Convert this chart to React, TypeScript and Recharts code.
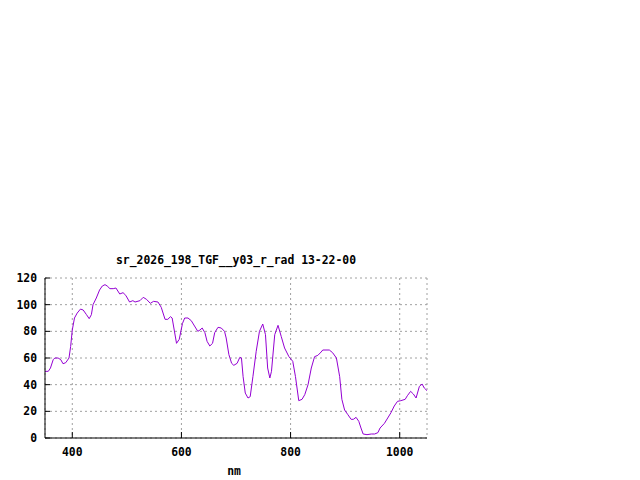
import {
  LineChart,
  Line,
  XAxis,
  YAxis,
  CartesianGrid,
} from "recharts";

const title = "sr_2026_198_TGF__y03_r_rad 13-22-00";
const xLabel = "nm";

const xTicks = [400, 600, 800, 1000];
const yTicks = [0, 20, 40, 60, 80, 100, 120];

const wavelengths = [
  350, 356, 360, 365, 368, 374, 379, 383, 388, 394, 397, 400, 404, 409, 415,
  420, 426, 431, 435, 438, 444, 450, 455, 460, 464, 469, 475, 480, 487, 493,
  498, 505, 511, 515, 524, 530, 536, 543, 549, 557, 563, 570, 575, 580, 583,
  591, 596, 602, 606, 612, 618, 624, 630, 634, 638, 643, 647, 652, 657, 661,
  667, 673, 679, 682, 687, 692, 696, 702, 707, 710, 713, 717, 722, 726, 731,
  737, 743, 749, 754, 758, 762, 765, 771, 777, 783, 789, 797, 804, 809, 815,
  821, 826, 832, 838, 844, 850, 856, 859, 871, 877, 884, 890, 894, 899, 905,
  911, 915, 920, 925, 929, 933, 940, 948, 954, 960, 964, 972, 978, 984, 990,
  996, 1002, 1010, 1014, 1020, 1025, 1030, 1036, 1041, 1045, 1050,
];

const radiance = [
  50, 50, 52.5, 58.7, 60, 60, 58.7, 55.7, 56.5, 60, 68.7, 81, 90, 93.7, 96.7,
  96, 92.5, 89.5, 92.5, 100, 105, 111, 114, 115, 114, 112, 112, 112.5, 108, 109,
  107, 102, 103, 102, 103, 105.5, 104, 101, 102.5, 102, 98, 89, 89, 91, 90,
  71, 74, 86, 90, 90, 88, 84, 80, 81, 82.5, 79, 72.5, 69, 71, 79,
  83, 82.5, 80, 75, 62.5, 56, 54.5, 56, 60.5, 60, 46, 33.7, 30, 31, 46,
  65, 80, 85.5, 77.5, 52.5, 45, 50, 77.5, 84.5, 76, 67.5, 61, 57.5, 46, 28,
  29, 32.5, 40, 52.5, 61, 62, 64.5, 66, 66, 64, 60, 46, 29, 21, 17.5,
  14, 14, 15.5, 12.5, 7.5, 3, 2.5, 3, 3, 4, 7.5, 11, 15, 19, 24,
  27.5, 28, 29, 31.7, 35, 33, 30, 38.7, 40.5, 37.5, 35.5,
];

const data = wavelengths.map((nm, i) => ({ nm, v: radiance[i] }));

const font = "'DejaVu Sans Mono', monospace";
const textStyle = { fontFamily: font, fontSize: 11.4, fontWeight: "bold" as const, fill: "#000" };

const BottomTick = (props: any) => {
  const { x, y, payload } = props;
  return (
    <g>
      <line x1={x} y1={y} x2={x} y2={y - 6} stroke="#000" />
      <text x={x} y={y + 14} dy="0.35em" textAnchor="middle" style={textStyle}>
        {payload.value}
      </text>
    </g>
  );
};

const TopTick = (props: any) => {
  const { x, y } = props;
  return <line x1={x} y1={y} x2={x} y2={y + 6} stroke="#000" />;
};

const LeftTick = (props: any) => {
  const { x, y, payload } = props;
  return (
    <g>
      <line x1={x} y1={y} x2={x + 5} y2={y} stroke="#000" />
      <text x={x - 8} y={y} dy="0.35em" textAnchor="end" style={textStyle}>
        {payload.value}
      </text>
    </g>
  );
};

const RightTick = (props: any) => {
  const { x, y } = props;
  return <line x1={x} y1={y} x2={x - 5} y2={y} stroke="#000" />;
};

export default function App() {
  return (
    <div style={{ position: "absolute", left: 0, top: 0, width: 640, height: 480, background: "#fff" }}>
      <div
        style={{
          position: "absolute",
          left: 45,
          width: 382,
          top: 252,
          textAlign: "center",
          fontFamily: font,
          fontSize: 11.4,
          fontWeight: "bold",
          lineHeight: "16px",
        }}
      >
        {title}
      </div>
      <LineChart
        width={640}
        height={480}
        data={data}
        margin={{ top: 278, right: 213, bottom: 0, left: 0 }}
      >
        <CartesianGrid stroke="#a0a0a0" strokeDasharray="2 3" />
        <XAxis
          dataKey="nm"
          type="number"
          domain={[350, 1050]}
          ticks={xTicks}
          height={42}
          tickSize={0}
          tickMargin={0}
          tickLine={false}
          axisLine={{ stroke: "#000" }}
          tick={<BottomTick />}
          interval={0}
        />
        <XAxis
          xAxisId="top"
          orientation="top"
          dataKey="nm"
          type="number"
          domain={[350, 1050]}
          ticks={xTicks}
          height={0}
          tickSize={0}
          tickMargin={0}
          tickLine={false}
          axisLine={{ stroke: "#000" }}
          tick={<TopTick />}
          interval={0}
        />
        <YAxis
          type="number"
          domain={[0, 120]}
          ticks={yTicks}
          width={45}
          tickSize={0}
          tickMargin={0}
          tickLine={false}
          axisLine={{ stroke: "#000" }}
          tick={<LeftTick />}
          interval={0}
        />
        <YAxis
          yAxisId="right"
          orientation="right"
          type="number"
          domain={[0, 120]}
          ticks={yTicks}
          width={0}
          tickSize={0}
          tickMargin={0}
          tickLine={false}
          axisLine={{ stroke: "#000" }}
          tick={<RightTick />}
          interval={0}
        />
        <Line
          type="linear"
          dataKey="v"
          stroke="#9400d3"
          strokeWidth={1}
          dot={false}
          isAnimationActive={false}
        />
      </LineChart>
      <div
        style={{
          position: "absolute",
          left: 43,
          width: 382,
          top: 463,
          textAlign: "center",
          fontFamily: font,
          fontSize: 11.4,
          fontWeight: "bold",
          lineHeight: "16px",
        }}
      >
        {xLabel}
      </div>
    </div>
  );
}
